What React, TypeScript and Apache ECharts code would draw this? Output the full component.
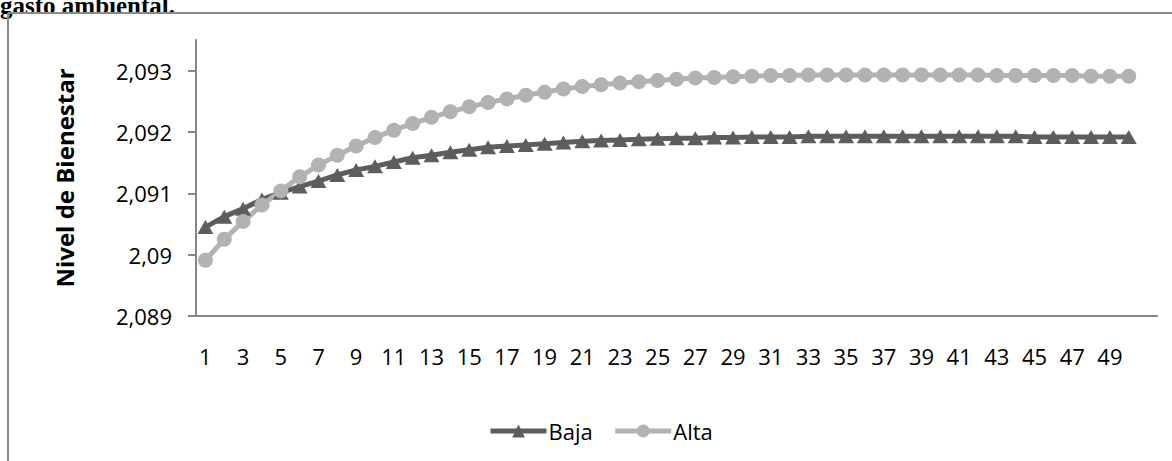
import React, { useEffect, useRef } from "react";
import * as echarts from "echarts";

const categories: string[] = [
  "1","2","3","4","5","6","7","8","9","10","11","12","13","14","15","16","17","18","19","20",
  "21","22","23","24","25","26","27","28","29","30","31","32","33","34","35","36","37","38","39","40",
  "41","42","43","44","45","46","47","48","49","50","",
];

const baja: number[] = [
  2.09045, 2.09062, 2.09075, 2.0909, 2.09101, 2.09111, 2.0912, 2.0913, 2.09138, 2.09144,
  2.09151, 2.09158, 2.09162, 2.09167, 2.09171, 2.09175, 2.09177, 2.09179, 2.09181, 2.09183,
  2.09185, 2.09186, 2.09187, 2.09188, 2.09189, 2.0919, 2.0919, 2.09191, 2.09191, 2.09192,
  2.09192, 2.09192, 2.09193, 2.09193, 2.09193, 2.09193, 2.09193, 2.09193, 2.09193, 2.09193,
  2.09193, 2.09193, 2.09193, 2.09193, 2.09192, 2.09192, 2.09192, 2.09192, 2.09192, 2.09192,
];

const alta: number[] = [
  2.08991, 2.09025, 2.09054, 2.09081, 2.09104, 2.09127, 2.09146, 2.09162, 2.09177, 2.09191,
  2.09203, 2.09214, 2.09224, 2.09233, 2.09241, 2.09248, 2.09254, 2.0926, 2.09265, 2.0927,
  2.09274, 2.09277, 2.0928, 2.09282, 2.09284, 2.09286, 2.09288, 2.09289, 2.0929, 2.09291,
  2.09292, 2.09292, 2.09293, 2.09293, 2.09293, 2.09293, 2.09293, 2.09293, 2.09293, 2.09293,
  2.09293, 2.09293, 2.09292, 2.09292, 2.09292, 2.09292, 2.09292, 2.09291, 2.09291, 2.09291,
];

const yTicks: number[] = [2.089, 2.09, 2.091, 2.092, 2.093];

const seriesNames = ["Baja", "Alta"];
const yAxisName = "Nivel de Bienestar";
const titleText = "gasto ambiental.";

const FONT = "'Open Sans', sans-serif";

export default function App() {
  const ref = useRef<HTMLDivElement>(null);
  useEffect(() => {
    if (!ref.current) return;
    const chart = echarts.init(ref.current, null, { renderer: "svg" });
    chart.setOption({
      animation: false,
      backgroundColor: "#ffffff",
      textStyle: { fontFamily: FONT },
      graphic: [
        {
          type: "text",
          left: 0,
          top: -7,
          style: {
            text: titleText,
            font: "bold 25px 'Liberation Serif', serif",
            fill: "#000",
          },
        },
        {
          type: "line",
          shape: { x1: 8, y1: 13, x2: 1172, y2: 13 },
          style: { stroke: "#8a8a8a", lineWidth: 2 },
        },
        {
          type: "line",
          shape: { x1: 8, y1: 13, x2: 8, y2: 461 },
          style: { stroke: "#8a8a8a", lineWidth: 2 },
        },
      ],
      grid: { left: 196, top: 40, right: 15, bottom: 145, containLabel: false },
      legend: {
        left: 483,
        top: 415,
        itemWidth: 56,
        itemHeight: 16,
        itemGap: 20,
        lineStyle: { width: 5 },
        textStyle: { fontSize: 22, fontFamily: FONT, color: "#000", padding: [0, 0, 0, -3] },
        data: seriesNames,
      },
      xAxis: {
        type: "category",
        data: categories,
        boundaryGap: true,
        axisLine: { lineStyle: { color: "#868686", width: 2 } },
        axisTick: { show: false },
        axisLabel: { interval: 1, margin: 29, fontSize: 22, color: "#000", fontFamily: FONT },
      },
      yAxis: {
        type: "value",
        min: 2.089,
        max: 2.0935,
        name: yAxisName,
        nameLocation: "middle",
        nameGap: 120,
        nameTextStyle: { fontSize: 24, fontWeight: "bold", color: "#000", fontFamily: FONT },
        axisLine: { show: true, lineStyle: { color: "#868686", width: 2 } },
        axisTick: { show: true, length: 8, customValues: yTicks, lineStyle: { color: "#868686", width: 2 } },
        axisLabel: {
          customValues: yTicks,
          margin: 24,
          fontSize: 22,
          color: "#000",
          fontFamily: FONT,
          formatter: (v: number) => String(+v.toFixed(3)).replace(".", ","),
        },
        splitLine: { show: false },
      },
      series: [
        {
          name: seriesNames[0],
          type: "line",
          data: baja,
          symbol: "triangle",
          symbolSize: [16, 14],
          showAllSymbol: true,
          lineStyle: { color: "#5d5d5d", width: 5 },
          itemStyle: { color: "#5d5d5d" },
        },
        {
          name: seriesNames[1],
          type: "line",
          data: alta,
          symbol: "circle",
          symbolSize: 15,
          showAllSymbol: true,
          lineStyle: { color: "#b2b2b2", width: 5 },
          itemStyle: { color: "#b2b2b2" },
        },
      ],
    });
    return () => chart.dispose();
  }, []);
  return (
    <div
      ref={ref}
      style={{ position: "fixed", left: 0, top: 0, width: 1172, height: 461 }}
    />
  );
}
